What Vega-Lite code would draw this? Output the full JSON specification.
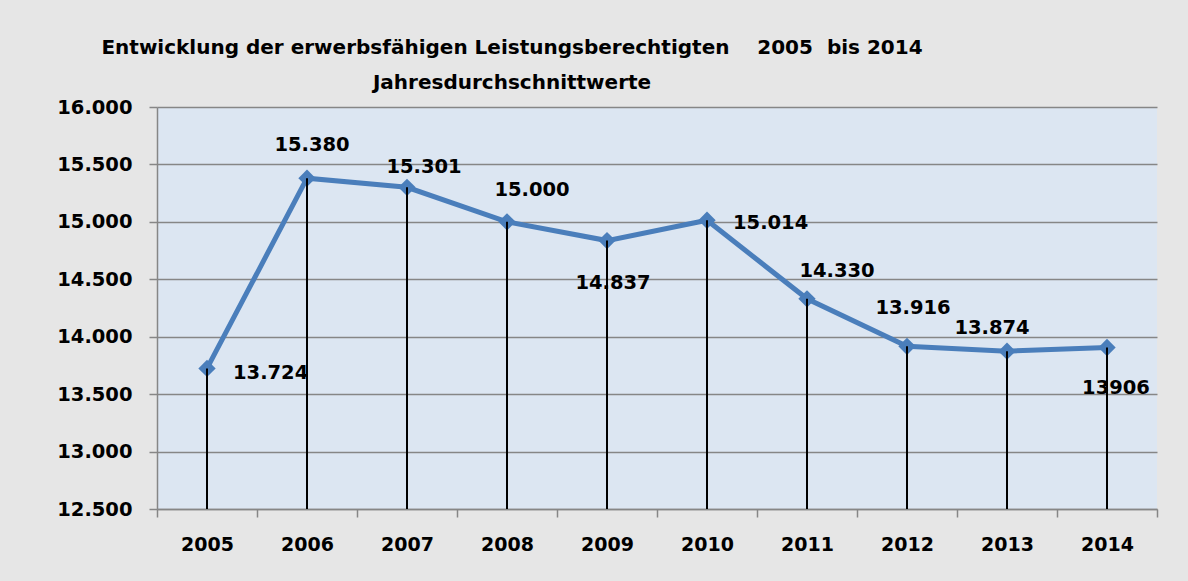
{
  "$schema": "https://vega.github.io/schema/vega-lite/v6.json",
  "width": 1000,
  "height": 402,
  "autosize": {"type": "none"},
  "padding": {"left": 157, "top": 107, "right": 31, "bottom": 72},
  "background": "#e6e6e6",
  "config": {
    "locale": {"number": {"decimal": ",", "thousands": ".", "grouping": [3], "currency": ["", " €"]}},
    "view": {"fill": "#dce6f2", "stroke": null},
    "font": "DejaVu Sans"
  },
  "title": {
    "text": ["Entwicklung der erwerbsfähigen Leistungsberechtigten \u00a0\u00a0\u00a02005 \u00a0bis 2014", "Jahresdurchschnittwerte"],
    "font": "DejaVu Sans",
    "fontSize": 20,
    "fontWeight": "bold",
    "color": "#000000",
    "anchor": "middle",
    "dx": -145,
    "lineHeight": 35,
    "offset": 4
  },
  "data": {
    "values": [
      {"year": "2005", "value": 13724, "label": "13.724"},
      {"year": "2006", "value": 15380, "label": "15.380"},
      {"year": "2007", "value": 15301, "label": "15.301"},
      {"year": "2008", "value": 15000, "label": "15.000"},
      {"year": "2009", "value": 14837, "label": "14.837"},
      {"year": "2010", "value": 15014, "label": "15.014"},
      {"year": "2011", "value": 14330, "label": "14.330"},
      {"year": "2012", "value": 13916, "label": "13.916"},
      {"year": "2013", "value": 13874, "label": "13.874"},
      {"year": "2014", "value": 13906, "label": "13906"}
    ]
  },
  "encoding": {
    "x": {
      "field": "year", "type": "nominal",
      "scale": {"type": "band", "paddingInner": 0, "paddingOuter": 0},
      "axis": {
        "title": null, "labelAngle": 0, "tickBand": "extent",
        "labelFont": "DejaVu Sans", "labelFontSize": 19, "labelFontWeight": "bold", "labelColor": "#000000",
        "labelPadding": 18, "tickSize": 8, "tickColor": "#868686", "tickWidth": 1.5,
        "domainColor": "#868686", "domainWidth": 1.5, "grid": false
      }
    },
    "y": {
      "field": "value", "type": "quantitative",
      "scale": {"domain": [12500, 16000], "nice": false, "zero": false},
      "axis": {
        "title": null, "values": [12500, 13000, 13500, 14000, 14500, 15000, 15500, 16000],
        "format": ",.0f",
        "labelFont": "DejaVu Sans", "labelFontSize": 19.5, "labelFontWeight": "bold", "labelColor": "#000000",
        "labelPadding": 17, "tickSize": 8, "tickColor": "#868686", "tickWidth": 1.5,
        "domainColor": "#868686", "domainWidth": 1.5,
        "grid": true, "gridColor": "#868686", "gridWidth": 1.5
      }
    }
  },
  "layer": [
    {"mark": {"type": "line", "color": "#4a7ebb", "strokeWidth": 5}},
    {"mark": {"type": "point", "shape": "diamond", "filled": true, "size": 300, "color": "#4a7ebb", "opacity": 1}},
    {"mark": {"type": "rule", "color": "#000000", "strokeWidth": 2}, "encoding": {"y2": {"datum": 12500}}},
    {"transform": [{"filter": "datum.year == '2005'"}], "mark": {"type": "text", "align": "left", "baseline": "middle", "dx": 26, "dy": 5, "font": "DejaVu Sans", "fontSize": 19.5, "fontWeight": "bold", "color": "#000000"}, "encoding": {"text": {"field": "label"}}},
    {"transform": [{"filter": "datum.year == '2006'"}], "mark": {"type": "text", "align": "center", "baseline": "middle", "dx": 5, "dy": -33, "font": "DejaVu Sans", "fontSize": 19.5, "fontWeight": "bold", "color": "#000000"}, "encoding": {"text": {"field": "label"}}},
    {"transform": [{"filter": "datum.year == '2007'"}], "mark": {"type": "text", "align": "center", "baseline": "middle", "dx": 17, "dy": -20, "font": "DejaVu Sans", "fontSize": 19.5, "fontWeight": "bold", "color": "#000000"}, "encoding": {"text": {"field": "label"}}},
    {"transform": [{"filter": "datum.year == '2008'"}], "mark": {"type": "text", "align": "center", "baseline": "middle", "dx": 25, "dy": -32, "font": "DejaVu Sans", "fontSize": 19.5, "fontWeight": "bold", "color": "#000000"}, "encoding": {"text": {"field": "label"}}},
    {"transform": [{"filter": "datum.year == '2009'"}], "mark": {"type": "text", "align": "center", "baseline": "middle", "dx": 6, "dy": 42, "font": "DejaVu Sans", "fontSize": 19.5, "fontWeight": "bold", "color": "#000000"}, "encoding": {"text": {"field": "label"}}},
    {"transform": [{"filter": "datum.year == '2010'"}], "mark": {"type": "text", "align": "left", "baseline": "middle", "dx": 26, "dy": 3, "font": "DejaVu Sans", "fontSize": 19.5, "fontWeight": "bold", "color": "#000000"}, "encoding": {"text": {"field": "label"}}},
    {"transform": [{"filter": "datum.year == '2011'"}], "mark": {"type": "text", "align": "center", "baseline": "middle", "dx": 30, "dy": -28, "font": "DejaVu Sans", "fontSize": 19.5, "fontWeight": "bold", "color": "#000000"}, "encoding": {"text": {"field": "label"}}},
    {"transform": [{"filter": "datum.year == '2012'"}], "mark": {"type": "text", "align": "center", "baseline": "middle", "dx": 6, "dy": -38, "font": "DejaVu Sans", "fontSize": 19.5, "fontWeight": "bold", "color": "#000000"}, "encoding": {"text": {"field": "label"}}},
    {"transform": [{"filter": "datum.year == '2013'"}], "mark": {"type": "text", "align": "center", "baseline": "middle", "dx": -15, "dy": -23, "font": "DejaVu Sans", "fontSize": 19.5, "fontWeight": "bold", "color": "#000000"}, "encoding": {"text": {"field": "label"}}},
    {"transform": [{"filter": "datum.year == '2014'"}], "mark": {"type": "text", "align": "center", "baseline": "middle", "dx": 9, "dy": 40, "font": "DejaVu Sans", "fontSize": 19.5, "fontWeight": "bold", "color": "#000000"}, "encoding": {"text": {"field": "label"}}}
  ]
}
